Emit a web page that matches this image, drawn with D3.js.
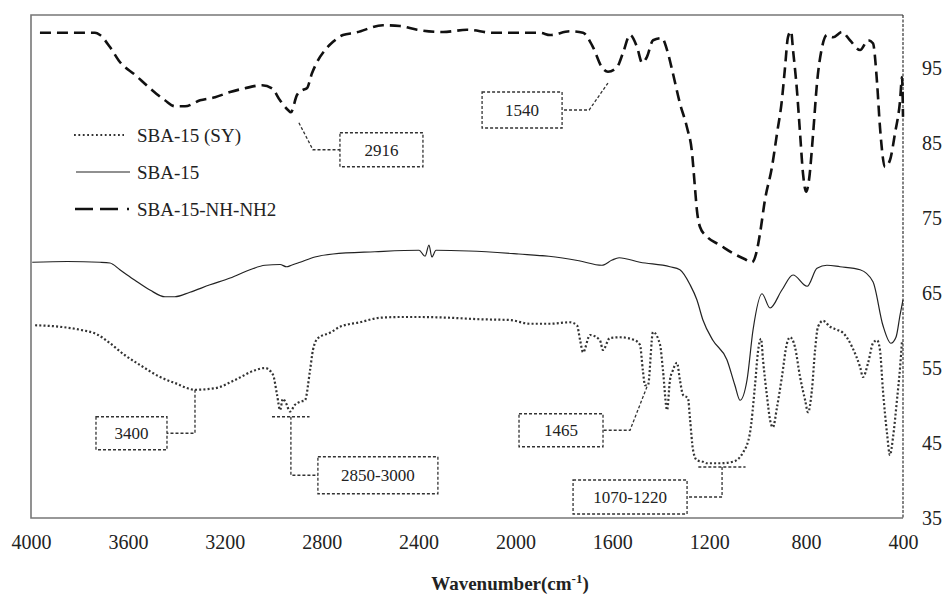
<!DOCTYPE html>
<html>
<head>
<meta charset="utf-8">
<script src="https://cdn.jsdelivr.net/npm/d3@7"></script>
<style>
  body { margin: 0; background: #fff; }
  svg { display: block; }
  svg text { font-family: "Liberation Serif", "DejaVu Serif", "Times New Roman", serif; }
</style>
</head>
<body>
<div id="chart"></div>
<script>
// FTIR spectra — SBA-15 (SY), SBA-15, SBA-15-NH-NH2
const W = 946, H = 597;
const FONT = '"Liberation Serif", "DejaVu Serif", "Times New Roman", serif';
const INK = '#222';
const FRAME = '#777';

const X_TICKS = [4000, 3600, 3200, 2800, 2400, 2000, 1600, 1200, 800, 400];
const Y_TICKS = [35, 45, 55, 65, 75, 85, 95];
const SERIES_NAMES = ['SBA-15 (SY)', 'SBA-15', 'SBA-15-NH-NH2'];

// [wavenumber, transmittance]
const sbaSY = [
  [3983,60.7],[3880,60.5],[3798,60.1],[3728,59.5],[3674,58.3],[3612,56.7],[3550,55.4],
  [3467,53.8],[3406,53.0],[3323,52.1],[3240,52.3],[3158,53.4],[3075,54.7],[3034,55.0],
  [3001,54.1],[2984,51.4],[2972,49.4],[2960,50.9],[2947,50.3],[2931,49.2],[2910,50.1],
  [2889,50.5],[2869,50.7],[2848,54.7],[2836,57.4],[2815,59.0],[2766,59.7],[2724,60.5],
  [2642,61.1],[2559,61.7],[2477,61.8],[2394,61.8],[2270,61.7],[2146,61.5],[2023,61.4],
  [1940,60.9],[1857,60.9],[1775,61.1],[1746,60.7],[1733,58.7],[1721,57.1],[1692,59.4],
  [1651,58.7],[1639,57.4],[1610,59.0],[1568,59.1],[1507,58.7],[1486,58.1],[1474,54.7],
  [1465,52.7],[1453,52.7],[1432,59.8],[1403,58.1],[1391,54.7],[1374,49.4],[1362,53.4],
  [1350,54.7],[1333,55.7],[1321,53.4],[1308,51.4],[1288,51.0],[1279,48.1],[1267,44.1],
  [1251,42.7],[1226,42.5],[1209,42.3],[1156,42.3],[1102,42.5],[1061,43.7],[1032,46.3],
  [1011,52.7],[999,57.1],[986,58.9],[978,56.1],[961,51.1],[949,48.1],[937,47.1],
  [920,49.8],[900,53.8],[879,58.3],[866,59.1],[846,57.8],[825,53.8],[804,50.7],
  [792,49.1],[776,52.1],[763,57.4],[751,60.5],[730,61.3],[701,60.5],[672,60.1],
  [648,59.7],[610,57.8],[577,55.1],[565,53.8],[544,55.7],[524,58.3],[507,58.7],
  [495,57.4],[483,52.1],[466,46.3],[454,43.4],[441,45.8],[425,50.7],[412,55.1],[404,58.7]
];

const sba15 = [
  [3995,69.1],[3850,69.2],[3715,69.1],[3674,69.0],[3633,68.1],[3571,66.7],[3509,65.4],
  [3447,64.5],[3406,64.5],[3344,65.1],[3261,66.1],[3178,67.0],[3096,68.1],[3034,68.7],
  [2972,68.8],[2945,68.5],[2925,68.7],[2889,69.1],[2828,69.8],[2753,70.2],[2580,70.5],
  [2398,70.7],[2373,69.9],[2357,71.4],[2345,69.8],[2328,70.7],[2192,70.6],[1986,70.2],
  [1862,69.9],[1738,69.3],[1643,68.7],[1601,69.4],[1572,69.7],[1486,69.1],[1362,68.5],
  [1321,68.1],[1279,66.1],[1251,64.1],[1226,61.4],[1185,58.7],[1127,56.1],[1094,52.7],
  [1073,50.7],[1044,53.4],[1019,60.1],[982,64.9],[949,63.0],[900,65.4],[854,67.4],
  [796,65.9],[755,68.3],[714,68.7],[660,68.5],[577,68.1],[524,66.5],[483,60.7],
  [450,58.3],[429,59.1],[412,62.1],[400,64.1]
];

const sbaNH = [
  [3963,99.7],[3850,99.7],[3736,99.7],[3715,99.4],[3674,97.8],[3633,95.8],[3571,94.1],
  [3509,92.3],[3447,90.7],[3406,89.9],[3364,89.9],[3302,90.7],[3240,91.1],[3178,91.8],
  [3117,92.3],[3046,92.7],[3005,92.3],[2972,90.7],[2939,89.4],[2927,89.1],[2902,91.4],
  [2877,92.1],[2861,92.3],[2840,94.3],[2819,95.8],[2786,97.4],[2753,98.5],[2712,99.4],
  [2662,99.7],[2547,100.7],[2477,100.6],[2406,100.1],[2299,99.8],[2200,100.1],[2093,99.7],
  [1994,99.7],[1899,99.7],[1857,99.4],[1775,99.9],[1721,99.7],[1680,97.8],[1643,95.1],
  [1618,94.5],[1581,95.1],[1556,97.0],[1527,99.4],[1498,97.8],[1477,95.7],[1457,96.5],
  [1432,98.7],[1395,99.0],[1374,97.4],[1350,94.3],[1321,90.3],[1292,87.1],[1271,83.7],
  [1259,79.1],[1251,76.1],[1238,73.8],[1209,72.5],[1156,71.4],[1102,70.3],[1052,69.5],
  [1023,69.1],[1003,70.7],[990,73.0],[970,77.4],[941,81.8],[920,86.3],[900,90.7],
  [887,95.1],[875,99.1],[862,99.9],[854,97.4],[838,92.1],[825,86.3],[813,81.0],
  [800,78.5],[788,80.1],[771,86.3],[755,93.0],[734,97.8],[714,99.4],[689,99.1],
  [652,99.8],[619,98.7],[577,97.4],[544,98.7],[524,98.3],[507,93.0],[495,87.1],
  [474,81.8],[454,82.7],[433,86.3],[412,90.7],[404,93.8],[400,88.5]
];

// peak call-outs: tip and elbow in data units, box on the given side
const NOTES = [
  { label: '2916',      tip: [2894, 87.7], elbow: [2836, 84.1], side: 'right', w: 83,  h: 34 },
  { label: '1540',      tip: [1618, 93.0], elbow: [1696, 89.4], side: 'left',  w: 80,  h: 36 },
  { label: '3400',      tip: [3323, 52.1], elbow: [3323, 46.3], side: 'left',  w: 71,  h: 33, gap: 28 },
  { label: '2850-3000', tip: [2927, 48.5], elbow: [2927, 40.7], side: 'right', w: 120, h: 37, gap: 27, bar: [3005, 2850] },
  { label: '1465',      tip: [1457, 52.5], elbow: [1527, 46.7], side: 'left',  w: 84,  h: 33 },
  { label: '1070-1220', tip: [1147, 41.8], elbow: [1147, 37.8], side: 'left',  w: 114, h: 34, gap: 35, bar: [1245, 1050] }
];

const plot = { left: 31, right: 903, top: 15, bottom: 518 };

const x = d3.scaleLinear().domain([4000, 400]).range([plot.left, plot.right]);
const y = d3.scaleLinear().domain([35, 102.07]).range([plot.bottom, plot.top]);

const svg = d3.select('#chart').append('svg')
  .attr('width', W).attr('height', H)
  .style('font-family', FONT);

// frame
svg.append('path')
  .attr('d', `M${plot.right},${plot.top}H${plot.left}V${plot.bottom}H${plot.right}`)
  .attr('fill', 'none').attr('stroke', FRAME).attr('stroke-width', 1.6);
svg.append('line')
  .attr('x1', plot.right).attr('x2', plot.right)
  .attr('y1', plot.top).attr('y2', plot.bottom)
  .attr('stroke', '#333').attr('stroke-width', 1.2).attr('stroke-dasharray', '3,1.5');

// axes (labels only)
const xAxis = svg.append('g')
  .attr('transform', `translate(0,${plot.bottom})`)
  .call(d3.axisBottom(x).tickValues(X_TICKS).tickSize(0).tickPadding(17).tickFormat(d3.format('d')));
xAxis.attr('font-family', null);
xAxis.select('.domain').remove();
xAxis.selectAll('text').attr('font-size', 20).attr('fill', INK);

const yAxis = svg.append('g')
  .attr('transform', `translate(${plot.right},0)`)
  .call(d3.axisRight(y).tickValues(Y_TICKS).tickSize(0).tickPadding(19));
yAxis.attr('font-family', null);
yAxis.select('.domain').remove();
yAxis.selectAll('text').attr('font-size', 20).attr('fill', INK);

const title = svg.append('text')
  .attr('x', 510).attr('y', 590)
  .attr('text-anchor', 'middle')
  .attr('font-size', 19).attr('font-weight', 'bold').attr('fill', INK);
title.append('tspan').text('Wavenumber(cm');
title.append('tspan').attr('dy', -7).attr('font-size', 13).text('-1');
title.append('tspan').attr('dy', 7).text(')');

// series
const line = d3.line()
  .x(d => x(d[0])).y(d => y(d[1]))
  .curve(d3.curveMonotoneX);

const STYLES = [
  { data: sbaSY, width: 2.2, dash: '2,2.2', color: '#333' },
  { data: sba15, width: 1.2, dash: null,    color: '#222' },
  { data: sbaNH, width: 2.6, dash: '11,6',  color: '#111' }
];

STYLES.forEach(s => {
  svg.append('path')
    .datum(s.data)
    .attr('d', line)
    .attr('fill', 'none')
    .attr('stroke', s.color)
    .attr('stroke-width', s.width)
    .attr('stroke-dasharray', s.dash);
});

// call-outs
const notes = svg.append('g')
  .attr('fill', 'none').attr('stroke', '#333')
  .attr('stroke-width', 1.3).attr('stroke-dasharray', '3,2');

NOTES.forEach(n => {
  const tx = x(n.tip[0]), ty = y(n.tip[1]);
  const ex = x(n.elbow[0]), ey = y(n.elbow[1]);
  const gap = n.gap || 27;
  const edge = n.side === 'right' ? ex + gap : ex - gap;
  const bx = n.side === 'right' ? edge : edge - n.w;

  notes.append('path').attr('d', `M${tx},${ty}L${ex},${ey}H${edge}`);
  notes.append('rect')
    .attr('x', bx).attr('y', ey - n.h / 2)
    .attr('width', n.w).attr('height', n.h);
  if (n.bar) {
    notes.append('line')
      .attr('x1', x(n.bar[0])).attr('x2', x(n.bar[1]))
      .attr('y1', ty).attr('y2', ty);
  }
  svg.append('text')
    .attr('x', bx + n.w / 2).attr('y', ey + 6)
    .attr('text-anchor', 'middle')
    .attr('font-size', 17).attr('fill', INK)
    .text(n.label);
});

// legend
const legend = svg.append('g');
SERIES_NAMES.forEach((name, i) => {
  const s = STYLES[i];
  const ly = 135 + i * 37;
  if (i === 2) {
    legend.append('path')
      .attr('d', `M75,${ly}H93M100,${ly}H118M127,${ly}H129`)
      .attr('stroke', s.color).attr('stroke-width', s.width);
  } else {
    legend.append('line')
      .attr('x1', i === 0 ? 74 : 76).attr('x2', i === 0 ? 124 : 130)
      .attr('y1', ly).attr('y2', ly)
      .attr('stroke', s.color).attr('stroke-width', i === 0 ? 1.8 : s.width)
      .attr('stroke-dasharray', i === 0 ? '1.8,2.6' : null);
  }
  legend.append('text')
    .attr('x', 137).attr('y', ly + 7)
    .attr('font-size', 19).attr('fill', INK)
    .text(name);
});
</script>
</body>
</html>
